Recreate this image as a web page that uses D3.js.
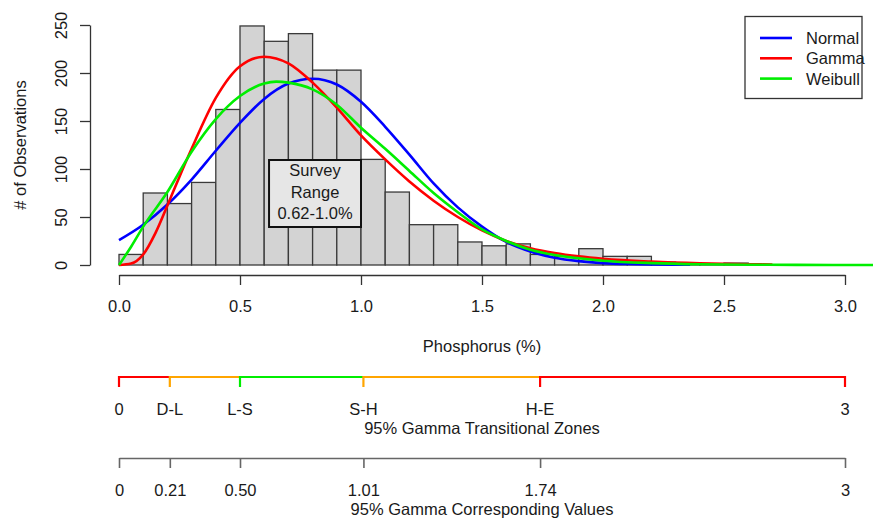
<!DOCTYPE html>
<html>
<head>
<meta charset="utf-8">
<script src="https://cdn.jsdelivr.net/npm/d3@7"></script>
<style>
  body { margin: 0; background: #fff; }
  svg { display: block; font-family: 'Liberation Sans', Arial, sans-serif; }
  text { fill: #1a1a1a; }
</style>
</head>
<body>
<svg></svg>
<script>
'use strict';
// histogram: lower bin edges (bin width 0.1) and counts
var binEdges = [0.0, 0.1, 0.2, 0.3, 0.4, 0.5, 0.6, 0.7, 0.8, 0.9, 1.0, 1.1, 1.2,
  1.3, 1.4, 1.5, 1.6, 1.7, 1.8, 1.9, 2.0, 2.1, 2.2, 2.3, 2.4, 2.5];
var binCounts = [11, 75, 64, 86, 162, 249, 233, 241, 203, 203, 110, 76, 42,
  42, 24, 20, 22, 11, 9, 17, 9, 9, 3, 1, 1, 2];
var binWidth = 0.1;

// fitted curves
var normalX = [0, 0.1, 0.2, 0.3, 0.4, 0.5, 0.6, 0.7, 0.8, 0.9, 1.0, 1.1, 1.2,
  1.3, 1.4, 1.5, 1.6, 1.7, 1.8, 1.9, 2.0, 2.1, 2.2, 2.36];
var normalY = [26, 42, 63, 89, 119, 148, 173, 189, 194, 188, 170, 144, 115,
  85, 60, 40, 24, 14, 7.5, 4, 2, 1, 0.5, 0.2];
var gammaX = [0, 0.05, 0.1, 0.15, 0.2, 0.25, 0.3, 0.4, 0.5, 0.6, 0.7, 0.8, 0.9,
  1.0, 1.1, 1.2, 1.3, 1.4, 1.5, 1.6, 1.7, 1.8, 1.9, 2.0, 2.2, 2.4, 2.6, 2.7];
var gammaY = [0, 1.5, 11, 33, 62, 92, 121, 174, 207, 217, 210, 190, 164,
  135, 110, 87, 67, 50, 36, 25, 17.5, 12.5, 9, 6.5, 3.5, 1.7, 0.8, 0.5];
var weibullX = [0, 0.05, 0.1, 0.2, 0.3, 0.4, 0.5, 0.6, 0.65, 0.7, 0.8, 0.9, 1.0,
  1.1, 1.2, 1.3, 1.4, 1.5, 1.6, 1.7, 1.8, 1.9, 2.0, 2.2, 2.4, 2.6, 2.8, 3.12];
var weibullY = [0, 19, 40, 76, 118, 152, 176, 189, 191, 190, 183, 167, 143,
  121, 98, 75, 55, 37, 25, 16, 10.5, 7, 4.5, 2, 0.8, 0.3, 0.1, 0];

var seriesNames = ['Normal', 'Gamma', 'Weibull'];
var seriesColors = ['#0000ff', '#ff0000', '#00ee00'];

var xTicks = [0, 0.5, 1.0, 1.5, 2.0, 2.5, 3.0];
var yTicks = [0, 50, 100, 150, 200, 250];

// survey box
var surveyRange = [0.62, 1.0];
var surveyLines = ['Survey', 'Range', '0.62-1.0%'];

// bottom scales
var zoneValues = [0, 0.21, 0.50, 1.01, 1.74, 3];
var zoneLabels = ['0', 'D-L', 'L-S', 'S-H', 'H-E', '3'];
var valueLabels = ['0', '0.21', '0.50', '1.01', '1.74', '3'];
var zoneColors = ['#ff0000', '#ffa500', '#00ee00', '#ffa500', '#ff0000'];
var tickColors = ['#ff0000', '#ffa500', '#00ee00', '#ffa500', '#ff0000', '#ff0000'];

var canvasWidth = 873;
var canvasHeight = 518;
var svg = d3.select('svg')
  .attr('width', canvasWidth)
  .attr('height', canvasHeight);

var fontSize = '16.5px';
var xScale = d3.scaleLinear().domain([0, 3]).range([119, 845]);
var yScale = d3.scaleLinear().domain([0, 250]).range([265, 25]);

// clip curves to the plot region
svg.append('clipPath').attr('id', 'plotclip')
  .append('rect').attr('x', 0).attr('y', 0).attr('width', canvasWidth).attr('height', 272);

// bars
svg.append('g').selectAll('rect')
  .data(binCounts)
  .enter().append('rect')
  .attr('x', function(d, i) { return xScale(binEdges[i]); })
  .attr('y', function(d) { return yScale(d); })
  .attr('width', function(d, i) { return xScale(binEdges[i] + binWidth) - xScale(binEdges[i]); })
  .attr('height', function(d) { return yScale(0) - yScale(d); })
  .style('fill', '#d3d3d3')
  .style('stroke', '#3a3a3a')
  .style('stroke-width', 1.3);

// survey range box
var survey = svg.append('g');
survey.append('rect')
  .attr('x', xScale(surveyRange[0]))
  .attr('y', 160)
  .attr('width', xScale(surveyRange[1]) - xScale(surveyRange[0]))
  .attr('height', 67)
  .style('fill', '#e6e6e6')
  .style('stroke', '#111')
  .style('stroke-width', 2);
survey.selectAll('text')
  .data(surveyLines)
  .enter().append('text')
  .attr('x', (xScale(surveyRange[0]) + xScale(surveyRange[1])) / 2)
  .attr('y', function(d, i) { return 176 + i * 21.5; })
  .style('text-anchor', 'middle')
  .style('font-size', fontSize)
  .text(function(d) { return d; });

// curves
var curveData = [
  { x: normalX, y: normalY },
  { x: gammaX, y: gammaY },
  { x: weibullX, y: weibullY }
];
var line = d3.line()
  .x(function(d) { return xScale(d[0]); })
  .y(function(d) { return yScale(d[1]); })
  .curve(d3.curveMonotoneX);
svg.append('g').attr('clip-path', 'url(#plotclip)')
  .selectAll('path')
  .data(curveData)
  .enter().append('path')
  .attr('d', function(c) { return line(c.x.map(function(v, i) { return [v, c.y[i]]; })); })
  .style('fill', 'none')
  .style('stroke', function(c, i) { return seriesColors[i]; })
  .style('stroke-width', 2.6);

// x axis
var xAxis = svg.append('g')
  .attr('transform', 'translate(0,275)')
  .call(d3.axisBottom(xScale).tickValues(xTicks).tickFormat(d3.format('.1f'))
    .tickSize(10).tickSizeOuter(0));
xAxis.select('.domain').style('stroke', '#333').style('stroke-width', 1.3);
xAxis.selectAll('line').style('stroke', '#333').style('stroke-width', 1.3);
xAxis.selectAll('text')
  .attr('y', 37).attr('dy', 0)
  .style('font-size', fontSize)
  .style('font-family', 'Liberation Sans, Arial, sans-serif')
  .style('fill', '#1a1a1a');

svg.append('text')
  .attr('x', 482)
  .attr('y', 352)
  .style('text-anchor', 'middle')
  .style('font-size', fontSize)
  .text('Phosphorus (%)');

// y axis
var yAxis = svg.append('g')
  .attr('transform', 'translate(90,0)')
  .call(d3.axisLeft(yScale).tickValues(yTicks).tickSize(10).tickSizeOuter(0));
yAxis.select('.domain').style('stroke', '#333').style('stroke-width', 1.3);
yAxis.selectAll('line').style('stroke', '#333').style('stroke-width', 1.3);
yAxis.selectAll('text')
  .attr('transform', 'rotate(-90)')
  .attr('x', 0).attr('y', -23).attr('dy', 0)
  .style('text-anchor', 'middle')
  .style('font-size', fontSize)
  .style('font-family', 'Liberation Sans, Arial, sans-serif')
  .style('fill', '#1a1a1a');

svg.append('text')
  .attr('transform', 'translate(26,145) rotate(-90)')
  .style('text-anchor', 'middle')
  .style('font-size', fontSize)
  .text('# of Observations');

// legend
var legend = svg.append('g');
legend.append('rect')
  .attr('x', 745).attr('y', 16.5)
  .attr('width', 117).attr('height', 82)
  .style('fill', '#fff')
  .style('stroke', '#333')
  .style('stroke-width', 1.3);
var legendItem = legend.selectAll('.legend')
  .data(seriesNames)
  .enter().append('g')
  .attr('class', 'legend')
  .attr('transform', function(d, i) { return 'translate(0,' + (38 + i * 20.3) + ')'; });
legendItem.append('line')
  .attr('x1', 760).attr('x2', 792)
  .attr('y1', 0).attr('y2', 0)
  .style('stroke', function(d, i) { return seriesColors[i]; })
  .style('stroke-width', 2.6);
legendItem.append('text')
  .attr('x', 806).attr('y', 6)
  .style('font-size', fontSize)
  .text(function(d) { return d; });

// transitional zones scale
var zones = svg.append('g').attr('transform', 'translate(0,377)');
zones.selectAll('.seg')
  .data(zoneColors)
  .enter().append('line')
  .attr('class', 'seg')
  .attr('x1', function(d, i) { return xScale(zoneValues[i]); })
  .attr('x2', function(d, i) { return xScale(zoneValues[i + 1]); })
  .attr('y1', 0).attr('y2', 0)
  .style('stroke', function(d) { return d; })
  .style('stroke-width', 2.2);
zones.selectAll('.tick')
  .data(zoneValues)
  .enter().append('line')
  .attr('class', 'tick')
  .attr('x1', function(d) { return xScale(d); })
  .attr('x2', function(d) { return xScale(d); })
  .attr('y1', -1).attr('y2', 10)
  .style('stroke', function(d, i) { return tickColors[i]; })
  .style('stroke-width', 2.2);
zones.selectAll('.lab')
  .data(zoneLabels)
  .enter().append('text')
  .attr('class', 'lab')
  .attr('x', function(d, i) { return xScale(zoneValues[i]); })
  .attr('y', 38)
  .style('text-anchor', 'middle')
  .style('font-size', fontSize)
  .text(function(d) { return d; });
svg.append('text')
  .attr('x', 482).attr('y', 434)
  .style('text-anchor', 'middle')
  .style('font-size', fontSize)
  .text('95% Gamma Transitional Zones');

// corresponding values scale
var valAxis = svg.append('g')
  .attr('transform', 'translate(0,458)')
  .call(d3.axisBottom(xScale).tickValues(zoneValues)
    .tickFormat(function(d, i) { return valueLabels[i]; })
    .tickSize(10).tickSizeOuter(0));
valAxis.select('.domain').style('stroke', '#666').style('stroke-width', 1.6);
valAxis.selectAll('line').style('stroke', '#666').style('stroke-width', 1.6);
valAxis.selectAll('text')
  .attr('y', 38).attr('dy', 0)
  .style('font-size', fontSize)
  .style('font-family', 'Liberation Sans, Arial, sans-serif')
  .style('fill', '#1a1a1a');
svg.append('text')
  .attr('x', 482).attr('y', 515)
  .style('text-anchor', 'middle')
  .style('font-size', fontSize)
  .text('95% Gamma Corresponding Values');
</script>
</body>
</html>
